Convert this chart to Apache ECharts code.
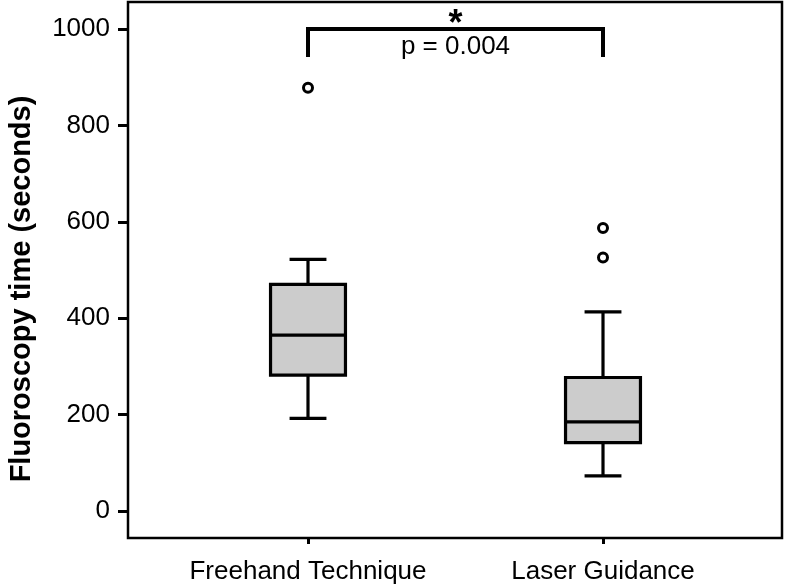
<!DOCTYPE html>
<html>
<head>
<meta charset="utf-8">
<script src="https://cdn.jsdelivr.net/npm/echarts@6/dist/echarts.min.js"></script>
<style>html,body{margin:0;padding:0;background:#fff;}#chart{width:786px;height:587px;}</style>
</head>
<body>
<div id="chart"></div>
<script>
// ---- data ----
const categories = ['Freehand Technique', 'Laser Guidance'];
const lowerWhisker = [192, 73];
const q1 = [282, 142];
const median = [365, 185];
const q3 = [470, 277];
const upperWhisker = [522, 413];
const outlierCategory = [0, 1, 1];
const outlierValue = [878, 526, 587];
const yTicks = [0, 200, 400, 600, 800, 1000];
const yTitle = 'Fluoroscopy time (seconds)';
const bracketTop = 1000;
const bracketFoot = 942;
const sigStar = '*';
const pText = 'p = 0.004';

const FONT = "'Liberation Sans', Arial, Helvetica, sans-serif";
const yMin = -56, yMax = 1056;

const boxData = categories.map((c, i) => [i, lowerWhisker[i], q1[i], median[i], q3[i], upperWhisker[i]]);
const outlierData = outlierValue.map((v, k) => [outlierCategory[k], v]);

function renderBox(params, api) {
  const i = api.value(0);
  const lo = api.coord([i, api.value(1)]);
  const b1 = api.coord([i, api.value(2)]);
  const md = api.coord([i, api.value(3)]);
  const b3 = api.coord([i, api.value(4)]);
  const hi = api.coord([i, api.value(5)]);
  const band = api.size([1, 0])[0];
  const boxW = band * 0.254;
  const capW = band * 0.125;
  const x = lo[0];
  const st = { stroke: '#000', lineWidth: 3.2, fill: null };
  return {
    type: 'group',
    children: [
      { type: 'line', shape: { x1: x, y1: lo[1], x2: x, y2: b1[1] }, style: st },
      { type: 'line', shape: { x1: x, y1: b3[1], x2: x, y2: hi[1] }, style: st },
      { type: 'line', shape: { x1: x - capW / 2, y1: lo[1], x2: x + capW / 2, y2: lo[1] }, style: st },
      { type: 'line', shape: { x1: x - capW / 2, y1: hi[1], x2: x + capW / 2, y2: hi[1] }, style: st },
      { type: 'rect', shape: { x: x - boxW / 2, y: b3[1], width: boxW, height: b1[1] - b3[1] },
        style: { fill: '#cccccc', stroke: '#000', lineWidth: 3.2 } },
      { type: 'line', shape: { x1: x - boxW / 2, y1: md[1], x2: x + boxW / 2, y2: md[1] }, style: st }
    ]
  };
}

function renderBracket(params, api) {
  const a = api.coord([api.value(0), api.value(2)]);
  const b = api.coord([api.value(1), api.value(2)]);
  const fa = api.coord([api.value(0), api.value(3)]);
  const fb = api.coord([api.value(1), api.value(3)]);
  const cx = (a[0] + b[0]) / 2;
  return {
    type: 'group',
    children: [
      { type: 'polyline', shape: { points: [[fa[0], fa[1]], [a[0], a[1]], [b[0], b[1]], [fb[0], fb[1]]] },
        style: { stroke: '#000', lineWidth: 4, fill: null, lineJoin: 'miter' } },
      { type: 'text', x: cx, y: a[1] + 14,
        style: { text: sigStar, fontSize: 36, fontWeight: 'bold', fontFamily: FONT, fill: '#000',
                 align: 'center', verticalAlign: 'bottom' } },
      { type: 'text', x: cx, y: a[1] + 18,
        style: { text: pText, fontSize: 26, fontFamily: FONT, fill: '#000',
                 align: 'center', verticalAlign: 'middle' } }
    ]
  };
}

const chart = echarts.init(document.getElementById('chart'), null, { renderer: 'canvas' });
chart.setOption({
  animation: false,
  backgroundColor: '#fff',
  textStyle: { fontFamily: FONT },
  grid: [
    { left: 128, right: 4, top: 2, bottom: 49, show: true, borderColor: '#000', borderWidth: 2.5, backgroundColor: 'transparent', containLabel: false },
    { left: 160.5, width: 590, top: 2, bottom: 49, containLabel: false }
  ],
  xAxis: [
    { gridIndex: 0, type: 'value', min: 0, max: 1, show: false },
    { gridIndex: 1, type: 'category', data: categories, boundaryGap: true, position: 'bottom',
      axisLine: { show: false, onZero: false },
      axisTick: { show: true, alignWithLabel: true, length: 6, lineStyle: { color: '#000', width: 3 } },
      axisLabel: { color: '#000', fontSize: 26, margin: 21, fontFamily: FONT, interval: 0 },
      splitLine: { show: false } }
  ],
  yAxis: [
    { gridIndex: 0, type: 'value', min: yMin, max: yMax,
      axisLine: { show: false },
      axisTick: { show: true, length: 10, lineStyle: { color: '#000', width: 3 }, customValues: yTicks },
      axisLabel: { color: '#000', fontSize: 26, margin: 18, fontFamily: FONT, customValues: yTicks,
                   formatter: function (v) { return String(v); } },
      splitLine: { show: false } },
    { gridIndex: 1, type: 'value', min: yMin, max: yMax, show: false, splitLine: { show: false } }
  ],
  graphic: [
    { type: 'text', x: 22, y: 289, rotation: Math.PI / 2,
      style: { text: yTitle, fontSize: 29, fontWeight: 'bold', fontFamily: FONT, fill: '#000',
               align: 'center', verticalAlign: 'middle' } }
  ],
  series: [
    { type: 'custom', xAxisIndex: 1, yAxisIndex: 1, renderItem: renderBox, data: boxData, silent: true },
    { type: 'scatter', xAxisIndex: 1, yAxisIndex: 1, data: outlierData, symbol: 'circle', symbolSize: 9,
      itemStyle: { color: '#fff', borderColor: '#000', borderWidth: 3, opacity: 1 }, silent: true },
    { type: 'custom', xAxisIndex: 1, yAxisIndex: 1, renderItem: renderBracket,
      data: [[0, 1, bracketTop, bracketFoot]], silent: true, clip: false }
  ]
});
</script>
</body>
</html>
